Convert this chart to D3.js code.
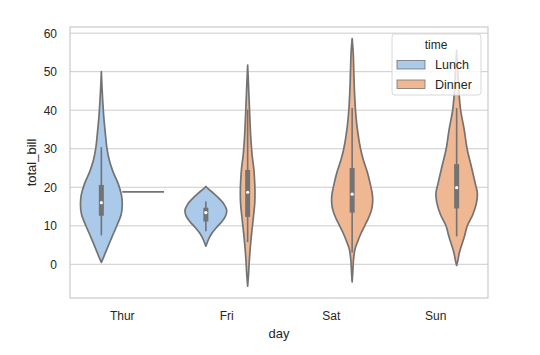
<!DOCTYPE html>
<html><head><meta charset="utf-8">
<script src="https://cdn.jsdelivr.net/npm/d3@7"></script>
<style>body{margin:0;background:#fff;} text{font-family:"Liberation Sans",Arial,sans-serif;fill:#262626;}</style>
</head><body>
<svg id="c" width="540" height="355"></svg>
<script>
const days = ["Thur", "Fri", "Sat", "Sun"];
const times = ["Lunch", "Dinner"];
const yTicks = [0, 10, 20, 30, 40, 50, 60];
const timeColors = ["#abcaea", "#efb792"];

// violin outlines: [total_bill, relative half-width]
const thurLunchProfile = [[0.5,0],[2,0.12],[4,0.27],[7,0.5],[10,0.74],[13,0.95],[15.5,1.0],[18,0.96],[21,0.8],[24,0.56],[27,0.38],[30,0.27],[34,0.19],[38,0.12],[42,0.07],[46,0.03],[50,0]];
const friLunchProfile = [[4.7,0],[6.5,0.13],[8,0.28],[9.5,0.5],[11,0.75],[12.5,0.94],[14,1.0],[15.5,0.88],[17,0.65],[18.5,0.36],[19.5,0.13],[20.2,0]];
const friDinnerProfile = [[-5.7,0],[-2,0.05],[1,0.08],[4,0.12],[7,0.17],[10,0.23],[13,0.29],[16,0.34],[19,0.35],[22,0.33],[25,0.29],[28,0.22],[32,0.16],[36,0.12],[40,0.09],[44,0.06],[48,0.03],[51.7,0]];
const satDinnerProfile = [[-4.6,0],[-2,0.03],[0,0.05],[2,0.08],[4,0.14],[6,0.27],[8,0.42],[10,0.6],[12,0.78],[14,0.92],[16,0.98],[18,0.97],[21,0.86],[24,0.72],[27,0.54],[30,0.4],[35,0.25],[40,0.16],[45,0.11],[50,0.08],[55,0.05],[58.6,0]];
const sunDinnerProfile = [[-0.3,0],[1,0.06],[3,0.13],[5,0.24],[7,0.36],[10,0.51],[13,0.78],[16,0.95],[18.5,0.99],[21,0.89],[25,0.72],[30,0.5],[35,0.36],[40,0.19],[44,0.12],[48,0.08],[52,0.04],[55.6,0]];

// inner box: [whisker low, q1, median, q3, whisker high]
const thurLunchBox = [7.51, 12.6, 16.0, 20.6, 30.4];
const friLunchBox = [8.58, 11.1, 13.42, 14.7, 16.27];
const friDinnerBox = [5.75, 12.3, 18.7, 24.5, 40.17];
const satDinnerBox = [3.07, 13.4, 18.2, 25.0, 40.55];
const sunDinnerBox = [7.25, 14.5, 19.9, 26.0, 40.55];
const thurDinnerValue = [18.78];

const violins = [
  {day: "Thur", time: "Lunch", profile: thurLunchProfile, box: thurLunchBox},
  {day: "Fri", time: "Lunch", profile: friLunchProfile, box: friLunchBox},
  {day: "Fri", time: "Dinner", profile: friDinnerProfile, box: friDinnerBox},
  {day: "Sat", time: "Dinner", profile: satDinnerProfile, box: satDinnerBox},
  {day: "Sun", time: "Dinner", profile: sunDinnerProfile, box: sunDinnerBox}
];
const singles = [{day: "Thur", time: "Dinner", value: thurDinnerValue[0]}];

const svg = d3.select("#c");
const L = 70, R = 488, T = 27, B = 298;
const gray = "#737373";
const x = d3.scaleBand().domain(days).range([L, R]).padding(0);
const hue = d3.scaleBand().domain(times).range([x.bandwidth() * 0.1, x.bandwidth() * 0.9]).padding(0);
const y = d3.scaleLinear().domain([-8.75, 61.6]).range([B, T]);
const color = d3.scaleOrdinal().domain(times).range(timeColors);
const w = d3.scaleLinear().domain([0, 1]).range([0, hue.bandwidth() / 2]);
const cx = (d) => x(d.day) + hue(d.time) + hue.bandwidth() / 2;

// grid
svg.append("g").selectAll("line").data(yTicks).join("line")
  .attr("x1", L).attr("x2", R).attr("y1", d => y(d)).attr("y2", d => y(d))
  .attr("stroke", "#cccccc").attr("stroke-width", 1);

// y axis labels
const yAxis = svg.append("g").attr("transform", `translate(${L},0)`)
  .call(d3.axisLeft(y).tickValues(yTicks).tickSize(0).tickPadding(13));
yAxis.select(".domain").remove();
yAxis.selectAll("text").attr("font-size", 12).attr("fill", "#333333").attr("font-family", "Liberation Sans, Arial, sans-serif");

const xAxis = svg.append("g").attr("transform", `translate(0,${B})`)
  .call(d3.axisBottom(x).tickSize(0).tickPadding(13));
xAxis.select(".domain").remove();
xAxis.selectAll("text").attr("font-size", 12).attr("fill", "#333333").attr("font-family", "Liberation Sans, Arial, sans-serif");

// violins
violins.forEach(v => {
  const c = cx(v);
  const area = d3.area().curve(d3.curveCatmullRom.alpha(0.5))
    .y(d => y(d[0])).x0(d => c - w(d[1])).x1(d => c + w(d[1]));
  svg.append("path").datum(v.profile).attr("d", area)
    .attr("fill", color(v.time)).attr("stroke", gray).attr("stroke-width", 1.7).attr("stroke-linejoin", "round");
  const b = v.box;
  svg.append("line").attr("x1", c).attr("x2", c).attr("y1", y(b[0])).attr("y2", y(b[4]))
    .attr("stroke", gray).attr("stroke-width", 1.6);
  svg.append("line").attr("x1", c).attr("x2", c).attr("y1", y(b[1])).attr("y2", y(b[3]))
    .attr("stroke", gray).attr("stroke-width", 5);
  svg.append("circle").attr("cx", c).attr("cy", y(b[2])).attr("r", 1.6).attr("fill", "#ffffff");
});
singles.forEach(s => {
  const c = cx(s);
  svg.append("line").attr("x1", c - w(1)).attr("x2", c + w(1)).attr("y1", y(s.value)).attr("y2", y(s.value))
    .attr("stroke", gray).attr("stroke-width", 1.7);
});

// frame
svg.append("rect").attr("x", L).attr("y", T).attr("width", R - L).attr("height", B - T)
  .attr("fill", "none").attr("stroke", "#cccccc").attr("stroke-width", 1.25);

// axis titles
svg.append("text").attr("x", (L + R) / 2).attr("y", 338).attr("text-anchor", "middle")
  .attr("font-size", 13).attr("fill", "#333333").text("day");
svg.append("text").attr("transform", `translate(36,${(T + B) / 2}) rotate(-90)`).attr("text-anchor", "middle")
  .attr("font-size", 13).attr("fill", "#333333").text("total_bill");

// legend
const lg = svg.append("g");
lg.append("rect").attr("x", 392).attr("y", 34).attr("width", 89).attr("height", 61).attr("rx", 3)
  .attr("fill", "#ffffff").attr("fill-opacity", 0.8).attr("stroke", "#d8d8d8").attr("stroke-width", 1);
lg.append("text").attr("x", 436).attr("y", 49).attr("text-anchor", "middle").attr("font-size", 12).attr("fill", "#333333").text("time");
times.forEach((t, i) => {
  const yy = 60.5 + i * 19.5;
  lg.append("rect").attr("x", 397).attr("y", yy).attr("width", 28).attr("height", 8.5)
    .attr("fill", color(t)).attr("stroke", gray).attr("stroke-width", 0.8);
  lg.append("text").attr("x", 435).attr("y", yy + 8.5).attr("font-size", 12.5).attr("fill", "#333333").text(t);
});
</script>
</body></html>
